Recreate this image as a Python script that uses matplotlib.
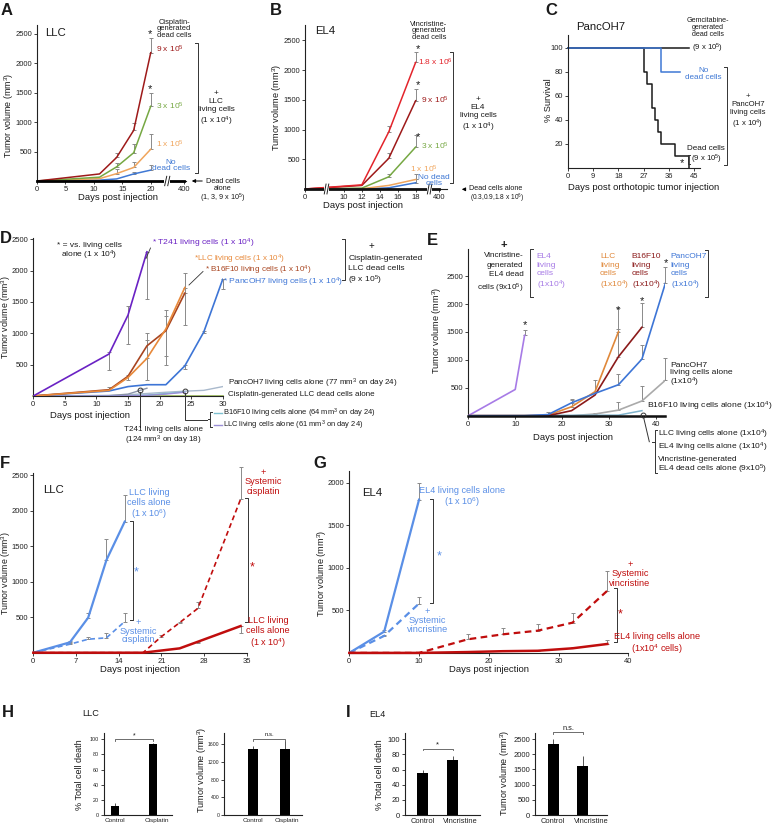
import numpy as np
import matplotlib
matplotlib.use('Agg')
import matplotlib.pyplot as plt
from matplotlib.lines import Line2D
from matplotlib.patches import Rectangle, FancyArrowPatch

plt.rcParams['font.family'] = ['Liberation Sans', 'DejaVu Sans']
plt.rcParams['mathtext.default'] = 'regular'

# ------------------------- DATA -------------------------
# Panel A (LLC + cisplatin-generated dead cells)
A_days = [0, 11, 14, 17, 20]
A_9e5 = [0, 120, 400, 860, 2180]
A_9e5_top = [0, 120, 470, 985, 2430]
A_3e5 = [0, 65, 240, 480, 1270]
A_3e5_top = [0, 65, 300, 630, 1500]
A_1e5 = [0, 40, 125, 230, 540]
A_1e5_top = [0, 40, 200, 330, 790]
A_none = [0, 15, 35, 120, 185]
A_none_top = [0, 15, 35, 155, 280]
A_dead_days = [0, 20, 400]
A_dead = [0, 0, 0]
A_xticks = [0, 5, 10, 15, 20, 400]

# Panel B (EL4 + vincristine-generated dead cells)
B_days = [0, 12, 15, 18]
B_18e6 = [0, 70, 960, 2130]
B_18e6_top = [0, 70, 1060, 2310]
B_9e5 = [0, 60, 515, 1485]
B_9e5_top = [0, 60, 610, 1680]
B_3e5 = [0, 15, 205, 705]
B_3e5_top = [0, 15, 260, 905]
B_1e5 = [0, 5, 60, 160]
B_1e5_top = [0, 5, 60, 260]
B_none = [0, 0, 20, 105]
B_none_top = [0, 0, 30, 175]
B_dead_days = [0, 18, 400]
B_dead = [0, 0, 0]
B_xticks = [0, 10, 12, 14, 16, 18, 400]

# Panel C (PancOH7 survival)
C_dead_t = [0, 27, 28, 30, 31, 32, 33, 38, 43]
C_dead_s = [100, 80, 70, 50, 40, 30, 20, 10, 0]
C_gem_t = [0, 43]
C_gem_s = [100, 100]
C_none_t = [0, 33, 40]
C_none_s = [100, 80, 80]

# Panel D
D_t241_days = [0, 12, 15, 18]
D_t241 = [0, 670, 1290, 2300]
D_t241_lo = [0, 420, 830, 1550]
D_t241_hi = [0, 700, 1440, 2300]
D_ll_days = [0, 12, 15, 18, 21, 24]
D_llc = [0, 90, 295, 600, 1070, 1730]
D_llc_lo = [0, 90, 260, 260, 490, 1140]
D_llc_hi = [0, 150, 330, 900, 1370, 1730]
D_b16 = [0, 100, 315, 800, 1040, 1640]
D_b16_lo = [0, 100, 315, 600, 640, 1640]
D_b16_hi = [0, 100, 315, 1000, 1280, 1960]
D_pa_days = [0, 12, 15, 18, 21, 24, 27, 30]
D_panc = [0, 80, 150, 180, 180, 480, 1020, 1860]
D_panc_lo = [0, 80, 150, 180, 180, 430, 1000, 1700]
D_panc_hi = [0, 80, 150, 180, 180, 500, 1040, 1870]
D_panc_alone = [0, 10, 20, 40, 60, 77, 90, 150]
D_t241_alone = [0, 5, 30, 124]
D_b16_alone = [0, 0, 5, 15, 40, 64]
D_llc_alone = [0, 0, 5, 10, 30, 61]
D_dead_alone = [0, 0, 0, 0, 0, 0, 0, 0]

# Panel E
E_el4_days = [0, 10, 12]
E_el4 = [0, 470, 1440]
E_el4_top = [0, 470, 1540]
E_llc_days = [0, 12, 17, 22, 27, 32]
E_llc = [0, 0, 10, 160, 430, 1505]
E_llc_top = [0, 0, 10, 290, 640, 1925]
E_b16_days = [0, 12, 17, 22, 27, 32, 37]
E_b16 = [0, 0, 0, 90, 370, 1057, 1584]
E_b16_top = [0, 0, 0, 90, 370, 1548, 2014]
E_pa_days = [0, 12, 17, 22, 27, 32, 37, 42]
E_panc = [0, 0, 20, 230, 400, 555, 1014, 2373]
E_panc_top = [0, 0, 60, 300, 400, 747, 1267, 2670]
E_pal_days = [0, 17, 22, 27, 32, 37, 42]
E_panc_alone = [0, 0, 0, 30, 100, 264, 635]
E_panc_alone_top = [0, 0, 0, 50, 250, 537, 1028]
E_b16_alone_days = [0, 32, 37]
E_b16_alone = [0, 10, 90]
E_alone_days = [0, 10, 17, 22, 27, 32, 37, 42]
E_alone = [0, 0, 0, 0, 0, 0, 0, 0]

# Panel F
F_days_a = [0, 6, 9, 12, 15]
F_llc6 = [0, 146, 494, 1308, 1849]
F_llc6_top = [0, 160, 565, 1600, 2226]
F_llc6_cis = [0, 120, 190, 210, 440]
F_llc6_cis_top = [0, 130, 226, 282, 555]
F_days_b = [0, 18, 24, 27, 34]
F_llc4 = [0, 0, 61, 155, 376]
F_llc4_lo = [0, 0, 61, 130, 280]
F_days_c = [0, 18, 21, 24, 27, 34]
F_llc4_cis = [0, 0, 226, 424, 626, 2165]
F_llc4_cis_top = [0, 0, 245, 440, 720, 2616]

# Panel G
G_days_a = [0, 5, 10]
G_el46 = [0, 250, 1800]
G_el46_top = [0, 270, 1992]
G_el46_vin = [0, 200, 580]
G_el46_vin_top = [0, 215, 653]
G_days_b = [0, 10, 17, 22, 27, 32, 37]
G_el44 = [0, 0, 10, 20, 25, 54, 105]
G_el44_top = [0, 0, 10, 25, 30, 70, 152]
G_el44_vin = [0, 0, 160, 218, 261, 355, 731]
G_el44_vin_top = [0, 0, 218, 293, 344, 469, 960]

# Panels H, I
H_cats = ['Control', 'Cisplatin']
H_death = [12, 94]
H_death_err = [4, 1.5]
H_vol = [1490, 1480]
H_vol_err = [60, 200]
I_cats = ['Control', 'Vincristine']
I_death = [55, 73]
I_death_err = [4, 5]
I_vol = [2340, 1620]
I_vol_err = [160, 330]

# ------------------------- HELPERS -------------------------
W, H = 776, 826
fig = plt.figure(figsize=(W / 100, H / 100), dpi=100)
TXT = '#1a1a1a'
XL = 6.8   # axis label size
TL = 5.5   # tick label size


def style(ax, fs=TL):
    for s in ['top', 'right']:
        ax.spines[s].set_visible(False)
    for s in ['left', 'bottom']:
        ax.spines[s].set_linewidth(0.8)
        ax.spines[s].set_color('#222222')
    ax.tick_params(labelsize=fs, length=2, width=0.6, pad=1.5, colors='#222222')
    ax.patch.set_alpha(0)


def axp(l, t, r, b, fs=TL):
    ax = fig.add_axes([l / W, 1 - b / H, (r - l) / W, (b - t) / H])
    style(ax, fs)
    return ax


def T(x, y, s, **kw):
    kw.setdefault('fontsize', 6.0)
    kw.setdefault('va', 'center')
    kw.setdefault('color', TXT)
    fig.text(x / W, 1 - y / H, s, **kw)


def L(xs, ys, **kw):
    kw.setdefault('color', '#333333')
    kw.setdefault('lw', 0.7)
    fig.add_artist(Line2D([x / W for x in xs], [1 - y / H for y in ys], **kw))


def bracket(x, y0, y1, side='right', w=3, **kw):
    d = -w if side == 'right' else w
    L([x + d, x, x, x + d], [y0, y0, y1, y1], **kw)


def circ(x, y):
    fig.add_artist(Line2D([x / W], [1 - y / H], marker='o', mfc='none',
                          mec='#333333', ms=3.5, mew=0.7, lw=0))


def arrow(x0, y0, x1, y1):
    fig.add_artist(FancyArrowPatch((x0 / W, 1 - y0 / H), (x1 / W, 1 - y1 / H),
                                   transform=fig.transFigure, arrowstyle='-|>',
                                   mutation_scale=5, lw=0.7, color='k'))


def eb(ax, x, y, lo, hi, color='#8a8a8a', cs=1.3):
    x = np.asarray(x, float); y = np.asarray(y, float)
    lo = np.asarray(lo, float); hi = np.asarray(hi, float)
    m = (hi - lo) > 0
    ax.errorbar(x[m], y[m], yerr=[y[m] - lo[m], hi[m] - y[m]], fmt='none',
                ecolor=color, elinewidth=0.7, capsize=cs, capthick=0.7,
                zorder=1.5, clip_on=False)


def brk(ax, xpos, dx):
    tr = ax.get_xaxis_transform()
    ax.add_patch(Rectangle((xpos - dx * 0.6, -0.03), dx * 1.2, 0.06, transform=tr,
                           facecolor='white', edgecolor='none', clip_on=False, zorder=5))
    for o in (-0.5, 0.1):
        ax.plot([xpos + o * dx, xpos + (o + 0.4) * dx], [-0.03, 0.03], transform=tr,
                color='#222222', lw=0.7, clip_on=False, zorder=6)


def ylab(x, y, s, fs=6.6):
    T(x, y, s, fontsize=fs, rotation=90, ha='center')


BLUE = '#3f78d4'
DRED = '#9e1a1a'
GREEN = '#76a843'
ORANGE = '#f0a55c'
RED = '#e3242b'

# ------------------------- PANEL A -------------------------
def xA(d):
    return np.interp(d, [0, 20, 400], [0, 20, 25.8])

ax = axp(37, 25, 186, 181)
ax.plot(xA(A_dead_days), A_dead, color='k', lw=2.0, clip_on=False, zorder=3)
for y, top, c in [(A_none, A_none_top, BLUE), (A_1e5, A_1e5_top, ORANGE),
                  (A_3e5, A_3e5_top, GREEN), (A_9e5, A_9e5_top, DRED)]:
    eb(ax, xA(A_days), y, y, top)
    ax.plot(xA(A_days), y, color=c, lw=1.1, zorder=2)
ax.set_xlim(0, 26.2)
ax.set_ylim(0, 2650)
ax.set_xticks(xA(A_xticks))
ax.set_xticklabels([str(v) for v in A_xticks])
ax.set_yticks([500, 1000, 1500, 2000, 2500])
brk(ax, 22.9, 0.9)

T(1, 15, 'A', fontsize=12, fontweight='bold', va='baseline')
T(45.5, 33.5, 'LLC', fontsize=8.2)
T(174, 29, 'Cisplatin-\ngenerated\ndead cells', ha='center', fontsize=5.4, linespacing=0.92)
T(150, 34, '*', ha='center', fontsize=8)
T(150, 89, '*', ha='center', fontsize=8)
T(156, 49.5, '9 x 10$^5$', color=DRED, fontsize=6.0)
T(156, 106, '3 x 10$^5$', color=GREEN, fontsize=6.0)
T(156, 144, '1 x 10$^5$', color=ORANGE, fontsize=6.0)
T(171, 165.5, 'No\ndead cells', color=BLUE, ha='center', fontsize=6.0, linespacing=0.95)
bracket(198, 43, 173, 'right')
T(216, 109, '+\nLLC\nliving cells\n(1 x 10$^4$)', ha='center', fontsize=5.9, linespacing=1.2)
arrow(205, 181, 189, 181)
T(206, 181.3, 'Dead cells', fontsize=5.3)
T(223, 188.8, 'alone', fontsize=5.3, ha='center')
T(223, 198, '(1, 3, 9 x 10$^5$)', fontsize=5.2, ha='center')
T(118, 198, 'Days post injection', fontsize=XL, ha='center')
ylab(9, 115, 'Tumor volume (mm$^3$)', fs=6.4)

# ------------------------- PANEL B -------------------------
def xB(d):
    return np.interp(d, [0, 10, 18, 400], [5.66, 10, 18, 20.6])

ax = axp(305, 25, 447, 189)
ax.plot(xB(B_dead_days), B_dead, color='#111111', lw=2.0, clip_on=False, zorder=3)
for y, top, c in [(B_none, B_none_top, BLUE), (B_1e5, B_1e5_top, ORANGE),
                  (B_3e5, B_3e5_top, GREEN), (B_9e5, B_9e5_top, DRED),
                  (B_18e6, B_18e6_top, RED)]:
    eb(ax, xB(B_days), y, y, top)
    ax.plot(xB(B_days), y, color=c, lw=1.1, zorder=2)
ax.set_xlim(5.66, 21.5)
ax.set_ylim(0, 2760)
ax.set_xticks(xB(B_xticks))
ax.set_xticklabels([str(v) for v in B_xticks])
ax.set_yticks([500, 1000, 1500, 2000, 2500])
brk(ax, 8.06, 0.5)
brk(ax, 19.56, 0.5)

T(270, 15, 'B', fontsize=12, fontweight='bold', va='baseline')
T(315, 31.5, 'EL4', fontsize=8.2)
T(429, 31, 'Vincristine-\ngenerated\ndead cells', ha='center', fontsize=5.4, linespacing=0.92)
T(418, 49, '*', ha='center', fontsize=8)
T(418, 85, '*', ha='center', fontsize=8)
T(418, 137, '*', ha='center', fontsize=8)
T(418, 62.5, '1.8 x 10$^6$', color=RED, fontsize=6.0)
T(421, 100, '9 x 10$^5$', color=DRED, fontsize=6.0)
T(421, 146, '3 x 10$^5$', color=GREEN, fontsize=6.0)
T(410, 169.5, '1 x 10$^5$', color=ORANGE, fontsize=6.0)
T(434, 180.5, 'No dead\ncells', color=BLUE, ha='center', fontsize=6.0, linespacing=0.95)
bracket(452.7, 51.7, 183.3, 'right')
T(478, 115, '+\nEL4\nliving cells\n(1 x 10$^4$)', ha='center', fontsize=5.9, linespacing=1.2)
arrow(468, 189.3, 459, 189.3)
T(469, 188.8, 'Dead cells alone', fontsize=5.2)
T(497.5, 198, '(0.3,0.9,1.8 x 10$^6$)', fontsize=4.8, ha='center')
T(363, 206, 'Days post injection', fontsize=XL, ha='center')
ylab(277, 107, 'Tumor volume (mm$^3$)')

# ------------------------- PANEL C -------------------------
ax = axp(567.7, 35, 700, 168)
ax.plot(C_gem_t, C_gem_s, color='#1a1a1a', lw=1.1, drawstyle='steps-post', clip_on=False)
ax.plot(C_dead_t, C_dead_s, color='#1a1a1a', lw=1.1, drawstyle='steps-post', clip_on=False)
ax.plot(C_none_t, C_none_s, color=BLUE, lw=1.1, drawstyle='steps-post', clip_on=False)
ax.set_xlim(0, 47)
ax.set_ylim(0, 110.5)
ax.set_xticks([0, 9, 18, 27, 36, 45])
ax.set_yticks([20, 40, 60, 80, 100])

T(545, 15, 'C', fontsize=12, fontweight='bold', va='baseline')
T(601, 27.5, 'PancOH7', fontsize=8.2, ha='center')
T(707.5, 27.5, 'Gemcitabine-\ngenerated\ndead cells', ha='center', fontsize=5.1, linespacing=0.92)
T(708, 48.5, '(9 x 10$^5$)', ha='center', fontsize=5.6)
T(703.5, 74, 'No\ndead cells', color=BLUE, ha='center', fontsize=5.9, linespacing=0.95)
bracket(727.3, 66.7, 165, 'right')
T(748, 112, '+\nPancOH7\nliving cells\n(1 x 10$^4$)', ha='center', fontsize=5.6, linespacing=1.2)
T(706, 149, 'Dead cells', ha='center', fontsize=5.9)
bracket(688.3, 155, 164, 'left', w=1.5)
T(690.7, 159.5, '(9 x 10$^5$)', fontsize=5.6)
T(681.7, 163, '*', ha='center', fontsize=8)
T(643.5, 187, 'Days post orthotopic tumor injection', fontsize=XL, ha='center')
ylab(548.5, 100, '% Survival')

# ------------------------- PANEL D -------------------------
PURP = '#6a22c4'
D_OR = '#e8893a'
D_BR = '#a8441f'
D_BL = '#3d75d6'
ax = axp(33.3, 238, 222.7, 396)
ax.plot(D_pa_days, D_dead_alone, color='#9bbb59', lw=1.2, clip_on=False, zorder=2)
ax.plot(D_pa_days, D_panc_alone, color='#a9b9cc', lw=1.0, zorder=2)
ax.plot(D_t241_days, D_t241_alone, color='#8a94a8', lw=1.0, zorder=2)
ax.plot(D_ll_days, D_b16_alone, color='#7dc0d0', lw=1.0, zorder=2)
ax.plot(D_ll_days, D_llc_alone, color='#9b8fd6', lw=1.0, zorder=2)
eb(ax, D_t241_days, D_t241, D_t241_lo, D_t241_hi)
eb(ax, D_ll_days, D_llc, D_llc_lo, D_llc_hi)
eb(ax, D_ll_days, D_b16, D_b16_lo, D_b16_hi)
eb(ax, D_pa_days, D_panc, D_panc_lo, D_panc_hi)
ax.plot(D_pa_days, D_panc, color=D_BL, lw=1.2, zorder=3)
ax.plot(D_ll_days, D_b16, color=D_BR, lw=1.2, zorder=3)
ax.plot(D_ll_days, D_llc, color=D_OR, lw=1.2, zorder=3)
ax.plot(D_t241_days, D_t241, color=PURP, lw=1.2, zorder=3)
ax.set_xlim(0, 30)
ax.set_ylim(0, 2520)
ax.set_xticks([0, 5, 10, 15, 20, 25, 30])
ax.set_yticks([500, 1000, 1500, 2000, 2500])

T(0, 243.3, 'D', fontsize=12, fontweight='bold', va='baseline')
T(89, 252, '* = vs. living cells\nalone (1 x 10$^4$)', ha='center', fontsize=6.0, linespacing=1.0)
T(152, 243, '* T241 living cells (1 x 10$^4$)', color=PURP, fontsize=6.1)
L([150.5, 146], [248, 258.5], color='#333333', lw=0.6)
T(194.3, 259, '*LLC living cells (1 x 10$^4$)', color=D_OR, fontsize=5.8)
T(205, 270, '* B16F10 living cells (1 x 10$^4$)', color=D_BR, fontsize=5.8)
L([203, 189], [271.5, 285], color='#333333', lw=0.6)
T(222.7, 282.5, '* PancOH7 living cells (1 x 10$^4$)', color=D_BL, fontsize=6.1)
bracket(345, 239, 280, 'right')
T(371.5, 245.5, '+', ha='center', fontsize=7)
T(348.3, 259, 'Cisplatin-generated', fontsize=6.1)
T(348.3, 268.5, 'LLC dead cells', fontsize=6.1)
T(348.3, 280, '(9 x 10$^5$)', fontsize=6.1)
T(228, 383, 'PancOH7 living cells alone (77 mm$^3$ on day 24)', fontsize=5.8)
T(228, 394.3, 'Cisplatin-generated LLC dead cells alone', fontsize=5.8)
circ(140, 390)
circ(185, 390.7)
L([140, 140], [392, 427])
L([185, 185, 207], [392.5, 420, 420])
bracket(210, 411.7, 426.7, 'left', w=2)
L([208, 210], [419.2, 419.2])
L([214, 222], [413, 413], color='#7dc0d0', lw=1.0)
L([214, 222], [425, 425], color='#9b8fd6', lw=1.0)
T(223, 413, 'B16F10 living cells alone (64 mm$^3$ on day 24)', fontsize=5.4)
T(223, 425, 'LLC living cells alone (61 mm$^3$ on day 24)', fontsize=5.4)
T(163, 436.5, 'T241 living cells alone\n(124 mm$^3$ on day 18)', ha='center', fontsize=5.8, linespacing=1.05)
T(90, 415, 'Days post injection', fontsize=XL, ha='center')
ylab(6.5, 317, 'Tumor volume (mm$^3$)', fs=6.3)

# ------------------------- PANEL E -------------------------
E_PU = '#a77be6'
E_OR = '#e0883a'
E_BR = '#8b1a1a'
ax = axp(468.3, 249.3, 665.4, 415.7)
ax.plot(E_alone_days, E_alone, color='#111111', lw=1.8, clip_on=False, zorder=4)
eb(ax, E_pal_days, E_panc_alone, E_panc_alone, E_panc_alone_top)
ax.plot(E_pal_days, E_panc_alone, color='#aaaaaa', lw=1.2, zorder=2)
ax.plot(E_b16_alone_days, E_b16_alone, color='#7fb3cc', lw=1.1, zorder=2)
for d, y, top, c in [(E_el4_days, E_el4, E_el4_top, E_PU),
                     (E_llc_days, E_llc, E_llc_top, E_OR),
                     (E_b16_days, E_b16, E_b16_top, E_BR),
                     (E_pa_days, E_panc, E_panc_top, D_BL)]:
    eb(ax, d, y, y, top)
    ax.plot(d, y, color=c, lw=1.2, zorder=3)
ax.set_xlim(0, 42)
ax.set_ylim(0, 2980)
ax.set_xticks([0, 10, 20, 30, 40])
ax.set_yticks([500, 1000, 1500, 2000, 2500])

T(427, 245, 'E', fontsize=12, fontweight='bold', va='baseline')
T(504.3, 245, '+', ha='center', fontsize=8, fontweight='bold')
T(523.3, 273.5, 'Vincristine-\ngenerated\nEL4 dead\ncells (9x10$^5$)', ha='right', fontsize=5.9, linespacing=1.42)
bracket(530, 249, 297, 'left')
T(536.7, 273, 'EL4\nliving\ncells\n(1x10$^4$)', color=E_PU, fontsize=6.0, linespacing=1.25)
T(600, 273, 'LLC\nliving\ncells\n(1x10$^4$)', color=E_OR, fontsize=6.0, linespacing=1.25)
T(631.7, 273, 'B16F10\nliving\ncells\n(1x10$^4$)', color=E_BR, fontsize=6.0, linespacing=1.25)
T(670.7, 273, 'PancOH7\nliving\ncells\n(1x10$^4$)', color=D_BL, fontsize=6.0, linespacing=1.25)
bracket(708.3, 250, 297, 'right')
for x, y in [(524.7, 325), (618.3, 310), (641.7, 301), (665.7, 263.5)]:
    T(x, y, '*', ha='center', fontsize=8)
T(670, 375.5, 'PancOH7\nliving cells alone\n(1x10$^4$)', fontsize=6.1, linespacing=1.05)
T(646.7, 406.7, 'B16F10 living cells alone (1x10$^4$)', fontsize=6.1)
circ(642.7, 415)
L([643.5, 649.3], [417, 441.7])
bracket(655, 430, 473.3, 'left', w=2)
L([652, 655], [441.7, 441.7])
T(658, 434.5, 'LLC living cells alone (1x10$^4$)', fontsize=6.0)
T(658, 447.3, 'EL4 living cells alone (1x10$^4$)', fontsize=6.0)
T(658, 459.3, 'Vincristine-generated', fontsize=6.0)
T(658, 469.8, 'EL4 dead cells alone (9x10$^5$)', fontsize=6.0)
T(573.3, 437, 'Days post injection', fontsize=XL, ha='center')
ylab(437, 330, 'Tumor volume (mm$^3$)')

# ------------------------- PANEL F -------------------------
FB = '#5a8fe6'
FR = '#c00d0d'
FG_FS = 6.6
ax = axp(33.3, 473.3, 246.7, 652.7)
eb(ax, F_days_a, F_llc6, F_llc6, F_llc6_top)
eb(ax, F_days_a, F_llc6_cis, F_llc6_cis, F_llc6_cis_top)
eb(ax, F_days_b, F_llc4, F_llc4_lo, F_llc4)
eb(ax, F_days_c, F_llc4_cis, F_llc4_cis, F_llc4_cis_top)
ax.plot(F_days_a, F_llc6_cis, color=FB, lw=1.2, ls=(0, (3, 2)), zorder=3)
ax.plot(F_days_a, F_llc6, color=FB, lw=1.6, zorder=3)
ax.plot(F_days_c, F_llc4_cis, color=FR, lw=1.2, ls=(0, (3, 2)), zorder=3)
ax.plot(F_days_b, F_llc4, color=FR, lw=1.8, zorder=4, clip_on=False)
ax.set_xlim(0, 35)
ax.set_ylim(0, 2530)
ax.set_xticks([0, 7, 14, 21, 28, 35])
ax.set_yticks([500, 1000, 1500, 2000, 2500])

T(0, 468, 'F', fontsize=12, fontweight='bold', va='baseline')
T(43.3, 490, 'LLC', fontsize=8.2)
T(149, 504.5, 'LLC living\ncells alone\n(1 x 10$^6$)', color=FB, ha='center', fontsize=FG_FS, linespacing=1.1)
bracket(132.7, 521, 620, 'right')
T(136, 572, '*', color=FB, ha='center', fontsize=9)
T(138.3, 631, '+\nSystemic\ncisplatin', color=FB, ha='center', fontsize=FG_FS, linespacing=1.0)
T(263.3, 482, '+\nSystemic\ncisplatin', color=FR, ha='center', fontsize=FG_FS, linespacing=1.0)
bracket(248, 498.3, 621.7, 'right')
T(252.3, 567, '*', color=FR, ha='center', fontsize=9)
T(268, 633, 'LLC living\ncells alone\n(1 x 10$^4$)', color=FR, ha='center', fontsize=FG_FS, linespacing=1.15)
T(140, 669, 'Days post injection', fontsize=XL, ha='center')
ylab(6.5, 573, 'Tumor volume (mm$^3$)', fs=6.3)

# ------------------------- PANEL G -------------------------
ax = axp(349.3, 470.7, 628.3, 652.9)
eb(ax, G_days_a, G_el46, G_el46, G_el46_top)
eb(ax, G_days_a, G_el46_vin, G_el46_vin, G_el46_vin_top)
eb(ax, G_days_b, G_el44, G_el44, G_el44_top)
eb(ax, G_days_b, G_el44_vin, G_el44_vin, G_el44_vin_top)
ax.plot(G_days_a, G_el46_vin, color=FB, lw=1.6, ls=(0, (3, 2)), zorder=3)
ax.plot(G_days_a, G_el46, color=FB, lw=1.6, zorder=3)
ax.plot(G_days_b, G_el44_vin, color=FR, lw=1.6, ls=(0, (3, 2)), zorder=3)
ax.plot(G_days_b, G_el44, color=FR, lw=1.8, zorder=4, clip_on=False)
ax.set_xlim(0, 40)
ax.set_ylim(0, 2140)
ax.set_xticks([0, 10, 20, 30, 40])
ax.set_yticks([500, 1000, 1500, 2000])

T(313.3, 468, 'G', fontsize=12, fontweight='bold', va='baseline')
T(361.7, 493, 'EL4', fontsize=8.2)
T(461.7, 497.5, 'EL4 living cells alone\n(1 x 10$^6$)', color=FB, ha='center', fontsize=FG_FS, linespacing=1.1)
bracket(433.3, 499.3, 603.3, 'right')
T(439.3, 556, '*', color=FB, ha='center', fontsize=9)
T(427.3, 620.5, '+\nSystemic\nvincristine', color=FB, ha='center', fontsize=FG_FS, linespacing=1.0)
T(630, 574, '+\nSystemic\nvincristine', color=FR, ha='center', fontsize=FG_FS, linespacing=1.0)
bracket(616.7, 588.3, 642, 'right')
T(620.3, 614, '*', color=FR, ha='center', fontsize=9)
T(657, 644, 'EL4 living cells alone\n(1x10$^4$ cells)', color=FR, ha='center', fontsize=FG_FS, linespacing=1.1)
T(489, 669, 'Days post injection', fontsize=XL, ha='center')
ylab(322.5, 573, 'Tumor volume (mm$^3$)')

# ------------------------- PANELS H, I -------------------------
def sig(ax, x0, x1, y, dy, txt, ty, fs=5):
    ax.plot([x0, x0, x1, x1], [y - dy, y, y, y - dy], color='#555555', lw=0.6, clip_on=False)
    ax.text((x0 + x1) / 2, ty, txt, ha='center', va='center', fontsize=fs, color=TXT)


def bars(ax, cats, vals, errs, width, fs, label_shift=0.0):
    x = np.arange(len(cats))
    ax.bar(x, vals, width=width, color='black', zorder=2)
    ax.errorbar(x, vals, yerr=[np.zeros(len(vals)), errs], fmt='none', ecolor='#555555',
                elinewidth=0.7, capsize=0, zorder=1)
    ax.set_xticks(x + np.array([0.0, label_shift]))
    ax.set_xticklabels(cats, fontsize=fs)
    ax.tick_params(axis='x', length=0, pad=2)


T(2, 716.7, 'H', fontsize=12, fontweight='bold', va='baseline')
T(82, 713.5, 'LLC', fontsize=6.6)
ax = axp(104, 733, 172, 815, fs=3.9)
bars(ax, H_cats, H_death, H_death_err, 0.2, 4.6, 0.1)
ax.set_xlim(-0.29, 1.5)
ax.set_ylim(0, 108.3)
ax.set_yticks([0, 20, 40, 60, 80, 100])
sig(ax, 0, 1, 100, 2.5, '*', 104.5, 5)
ylab(79.5, 775, '% Total cell death', fs=6.5)

ax = axp(224, 733, 302, 815, fs=3.7)
bars(ax, H_cats, H_vol, H_vol_err, 0.31, 4.6, 0.05)
ax.set_xlim(-0.906, 1.53)
ax.set_ylim(0, 1850)
ax.set_yticks([0, 400, 800, 1200, 1600])
sig(ax, 0, 1, 1713, 40, 'n.s.', 1810, 4.3)
ylab(202, 770, 'Tumor volume (mm$^3$)', fs=6.5)

T(346, 717, 'I', fontsize=12, fontweight='bold', va='baseline')
T(369, 714.5, 'EL4', fontsize=6.6)
ax = axp(405, 733, 480, 815, fs=5.5)
bars(ax, I_cats, I_death, I_death_err, 0.35, 5.4, 0.27)
ax.set_xlim(-0.59, 1.91)
ax.set_ylim(0, 108.3)
ax.set_yticks([0, 20, 40, 60, 80, 100])
sig(ax, 0, 1, 87.7, 2.5, '*', 93, 5.5)
ylab(380, 775, '% Total cell death', fs=6.5)

ax = axp(535, 733, 607, 815, fs=5.5)
bars(ax, I_cats, I_vol, I_vol_err, 0.36, 5.4, 0.28)
ax.set_xlim(-0.62, 1.82)
ax.set_ylim(0, 2700)
ax.set_yticks([0, 500, 1000, 1500, 2000, 2500])
sig(ax, 0, 1, 2720, 60, 'n.s.', 2860, 5.3)
ylab(505, 773, 'Tumor volume (mm$^3$)', fs=6.5)

fig.savefig('out.png', dpi=100)
